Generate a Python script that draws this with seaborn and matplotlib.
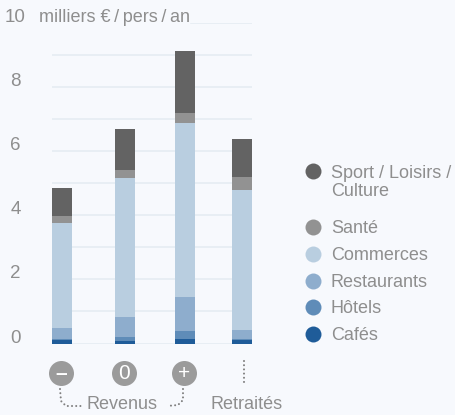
import matplotlib
matplotlib.use("Agg")
import matplotlib.pyplot as plt
import pandas as pd
import seaborn as sns

groups = ["-", "0", "+", "Retraités"]
cafes = [0.11, 0.08, 0.14, 0.11]
hotels = [0.03, 0.12, 0.25, 0.02]
restaurants = [0.34, 0.62, 1.06, 0.29]
commerces = [3.27, 4.34, 5.42, 4.36]
sante = [0.22, 0.24, 0.31, 0.41]
sport = [0.87, 1.28, 1.93, 1.18]

series_names = ["Cafés", "Hôtels", "Restaurants", "Commerces", "Santé", "Sport / Loisirs /\nCulture"]
series_values = [cafes, hotels, restaurants, commerces, sante, sport]
series_colors = ["#1f5c99", "#5f8cb8", "#8eadcd", "#b9cee0", "#929292", "#636363"]
y_ticks = [0, 2, 4, 6, 8, 10]

BG = "#f7f9fd"
GRID = "#e8eef4"
TXT = "#8e8e8e"
W, H = 456, 415
bar_centers = [62, 125, 185, 242]  # px


def px_text(fig, x, y, s, **kw):
    fig.text(x / W, 1 - y / H, s, color=TXT, va="center", **kw)


plt.rcParams["font.family"] = ["Liberation Sans", "DejaVu Sans"]
fig = plt.figure(figsize=(W / 100, H / 100), dpi=100, facecolor=BG)
# axes spans the px range x=52-252, y=10 at 22.7 and y=0 at 343.5
ax = fig.add_axes([52 / W, 1 - 343.5 / H, 200 / W, (343.5 - 22.7) / H], facecolor=BG)

df = pd.DataFrame({"pos": bar_centers})
for name, vals in zip(series_names, series_values):
    df[name] = vals
cum = df[series_names].cumsum(axis=1)
cum["pos"] = df["pos"]

# tallest first, so each shorter cumulative bar covers the one before
min_gap = min(b - a for a, b in zip(bar_centers, bar_centers[1:]))
for name, color in reversed(list(zip(series_names, series_colors))):
    sns.barplot(data=cum, x="pos", y=name, native_scale=True, color=color, saturation=1,
                width=20 / min_gap, linewidth=0, ax=ax, zorder=3)

ax.set_xlim(52, 252)
ax.set_ylim(0, 10)
ax.set_yticks(range(0, 11))
ax.grid(axis="y", color=GRID, lw=1.4, zorder=0)
ax.set_axisbelow(True)
ax.set_xlabel("")
ax.set_ylabel("")
ax.tick_params(left=False, bottom=False, labelleft=False, labelbottom=False)
for side in ax.spines.values():
    side.set_visible(False)

# hide the part of the top gridline behind the unit label
ax.plot([52, 188], [10, 10], color=BG, lw=2.5, zorder=1, clip_on=False)

for t in y_ticks:
    y = 343.5 - 32.08 * t - 5.5
    px_text(fig, 15.5, y, str(t), fontsize=13.5, ha="center")
px_text(fig, 39, 17.5, "milliers €\u2009/\u2009pers\u2009/\u2009an", fontsize=13, ha="left")

# legend
legend_y = [334, 307, 281, 254, 227, 171]
for name, color, y in zip(series_names, series_colors, legend_y):
    fig.add_artist(plt.Line2D([313 / W], [1 - y / H], marker="o", ms=11.5, mfc=color, mec="none",
                              transform=fig.transFigure))
    yy = y + 1.5 if "\n" not in name else y + 11.5
    px_text(fig, 331, yy, name, fontsize=13, ha="left", linespacing=1.15)

# group marks under the bars
for x, s, wt in zip([61, 124, 184], ["–", "0", "+"], ["bold", "normal", "normal"]):
    fig.add_artist(plt.Line2D([x / W], [1 - 373 / H], marker="o", ms=18, mfc="#9b9b9b", mec="none",
                              transform=fig.transFigure))
    fig.text(x / W, 1 - 373.5 / H, s, color="white", ha="center", va="center", fontsize=15, fontweight=wt)

dots = dict(ls=(0, (0.01, 2.0)), lw=1.5, color="#808080", dash_capstyle="round",
            transform=fig.transFigure)
for xs, ys in [([60, 61, 66, 82], [389, 401, 406, 406]),
               ([183, 183, 178, 167], [389, 400, 405, 406]),
               ([244, 244], [361, 383])]:
    fig.add_artist(plt.Line2D([x / W for x in xs], [1 - y / H for y in ys], **dots))

px_text(fig, 87, 404, "Revenus", fontsize=13, ha="left")
px_text(fig, 211, 404, "Retraités", fontsize=13, ha="left")

fig.savefig("out.png", dpi=100, facecolor=BG)
